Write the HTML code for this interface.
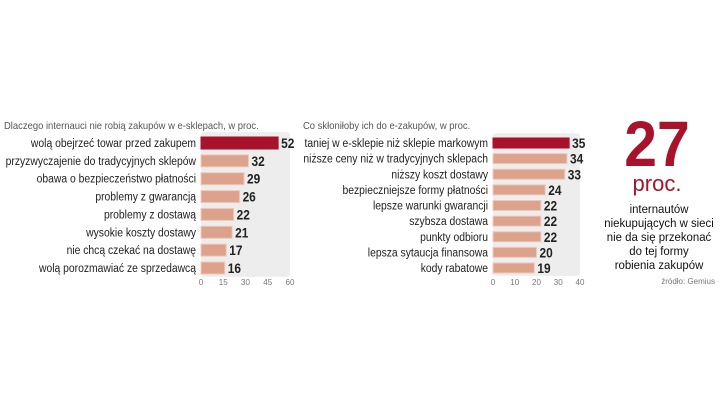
<!DOCTYPE html>
<html><head><meta charset="utf-8"><style>
body{margin:0;background:#fff;width:720px;height:406px;overflow:hidden;font-family:"Liberation Sans",sans-serif}
svg text{font-family:"Liberation Sans",sans-serif}
</style></head><body>
<svg width="720" height="406">
<g id="c1"></g>
<g id="c2"></g>
<g>
<text x="0" y="0" font-size="64" font-weight="bold" fill="#a8122a" text-anchor="middle" transform="translate(657,166) scale(0.92,1)">27</text>
<text x="657" y="191" font-size="22" fill="#a8122a" text-anchor="middle">proc.</text>
<g font-size="12" fill="#111" text-anchor="middle">
<text x="0" y="0" transform="translate(659,213) scale(0.95,1)">internautów</text>
<text x="0" y="0" transform="translate(659,227) scale(0.95,1)">niekupujących w sieci</text>
<text x="0" y="0" transform="translate(659,241) scale(0.95,1)">nie da się przekonać</text>
<text x="0" y="0" transform="translate(659,255) scale(0.95,1)">do tej formy</text>
<text x="0" y="0" transform="translate(659,269) scale(0.95,1)">robienia zakupów</text>
</g>
<text x="715" y="284" font-size="8" fill="#777" text-anchor="end">źródło: Gemius</text>
</g>
</svg>
<script>
const cats1=["wolą obejrzeć towar przed zakupem","przyzwyczajenie do tradycyjnych sklepów","obawa o bezpieczeństwo płatności","problemy z gwarancją","problemy z dostawą","wysokie koszty dostawy","nie chcą czekać na dostawę","wolą porozmawiać ze sprzedawcą"];
const vals1=[52,32,29,26,22,21,17,16];
const ticks1=[0,15,30,45,60];
const cats2=["taniej w e-sklepie niż sklepie markowym","niższe ceny niż w tradycyjnych sklepach","niższy koszt dostawy","bezpieczniejsze formy płatności","lepsze warunki gwarancji","szybsza dostawa","punkty odbioru","lepsza sytaucja finansowa","kody rabatowe"];
const vals2=[35,34,33,24,22,22,22,20,19];
const ticks2=[0,10,20,30,40];
const NS="http://www.w3.org/2000/svg";
function mk(p,t,a){const e=document.createElementNS(NS,t);for(const k in a)e.setAttribute(k,a[k]);p.appendChild(e);return e;}
function draw(g,title,cats,vals,ticks,x0,x1,max,y0,y1,bh,titleX){
 const sx=v=>x0+(x1-x0)*v/max;
 const n=cats.length,step=(y1-y0)/(n-1);
 const sy=i=>y0+i*step;
 const bg=mk(g,"rect",{x:x0,y:y0-step/2-2,width:x1-x0,height:(y1-y0)+step+2,fill:"#ededed",rx:3});
 
 
 const t=mk(g,"text",{x:0,y:0,"font-size":10.5,fill:"#555",transform:`translate(${titleX},129) scale(0.9,1)`});t.textContent=title;
 
 
 cats.forEach((c,i)=>{
  const y=sy(i);
  const b=mk(g,"rect",{x:x0,y:y-bh/2,width:sx(vals[i])-x0,height:bh,fill:i==0?"#a8122a":"#dda28c",stroke:i==0?"#a8122a":"#f0c9b8","stroke-width":1});
  
  
  const l=mk(g,"text",{x:0,y:0,"font-size":11.5,fill:"#222","text-anchor":"end",transform:`translate(${x0-5},${y+4}) scale(0.9,1)`});l.textContent=c;
  
  
  const v=mk(g,"text",{x:0,y:0,"font-size":14,"font-weight":"bold",fill:"#222",transform:`translate(${sx(vals[i])+3},${y+5}) scale(0.85,1)`});v.textContent=vals[i];
  
  
 });
 ticks.forEach(tk=>{
  const e=mk(g,"text",{x:sx(tk),y:285,"font-size":8,fill:"#777","text-anchor":"middle"});e.textContent=tk;
  
  
 });
}
draw(document.getElementById("c1"),"Dlaczego internauci nie robią zakupów w e-sklepach, w proc.",cats1,vals1,ticks1,201,290,60,143,268,12,4);
draw(document.getElementById("c2"),"Co skłoniłoby ich do e-zakupów, w proc.",cats2,vals2,ticks2,493,580,40,143,268,10,303);
</script>
</body></html>
